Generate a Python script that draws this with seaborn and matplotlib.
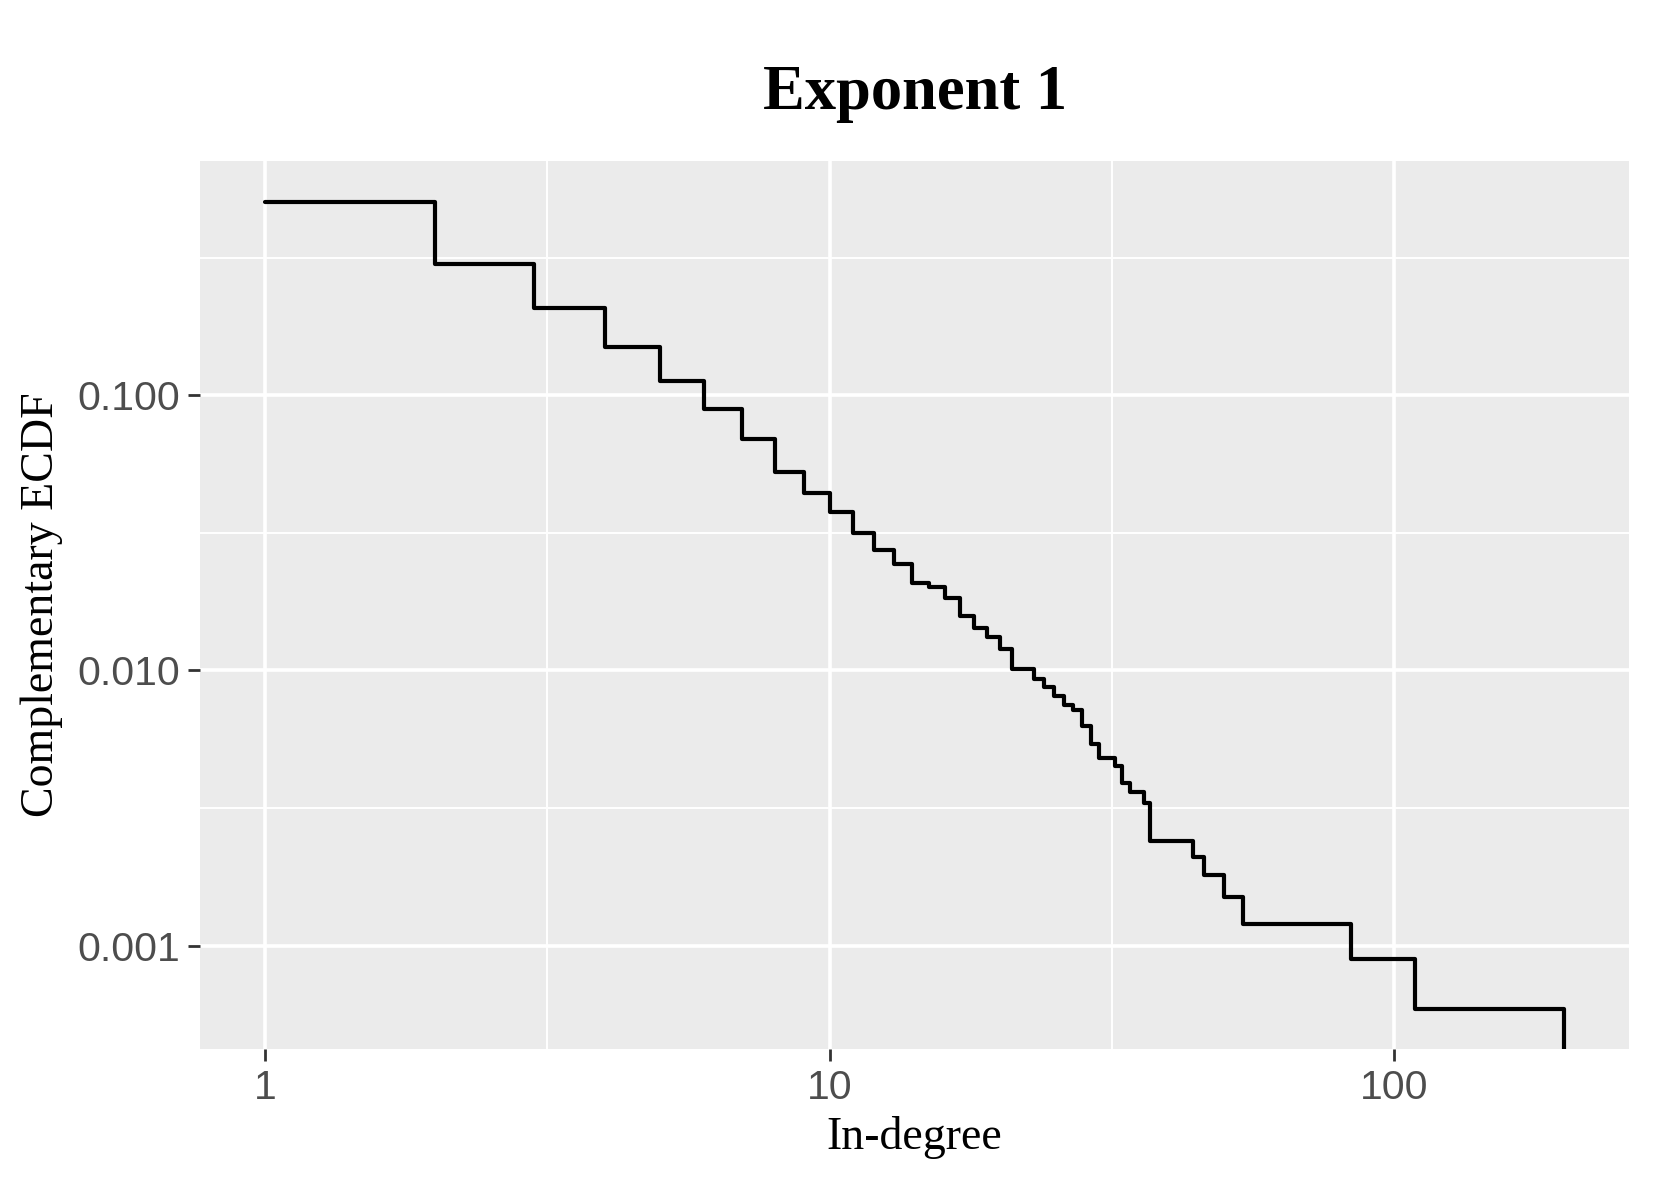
import numpy as np
import matplotlib
matplotlib.use("Agg")
import matplotlib.pyplot as plt
from matplotlib.ticker import FixedLocator, FixedFormatter, NullFormatter
import seaborn as sns

# complementary ECDF P(X > x)
in_degree = [1, 2, 3, 4, 5, 6, 7, 8, 9, 10, 11, 12, 13, 14, 15, 16, 17, 18, 19, 20,
             21, 23, 24, 25, 26, 27, 28, 29, 30, 32, 33, 34, 36, 37, 44, 46, 50, 54,
             84, 109, 200]
ccdf = [0.505, 0.301, 0.207, 0.150, 0.113, 0.0894, 0.0692, 0.0524, 0.0441, 0.0375,
        0.0316, 0.0273, 0.0244, 0.0208, 0.0201, 0.0183, 0.0158, 0.0143, 0.0132, 0.0120,
        0.0101, 0.0093, 0.0087, 0.0081, 0.0075, 0.0072, 0.0063, 0.0054, 0.0048, 0.0045,
        0.0039, 0.0036, 0.0033, 0.0024, 0.0021, 0.0018, 0.0015, 0.0012,
        0.00089, 0.00059, 0.0]

x_breaks = [1, 10, 100]
x_labels = ["1", "10", "100"]
y_breaks = [0.001, 0.01, 0.1]
y_labels = ["0.001", "0.010", "0.100"]

sns.set_theme(style="darkgrid", rc={
    "axes.facecolor": "#EBEBEB",
    "grid.color": "white",
    "text.color": "black",
    "axes.labelcolor": "black",
})
plt.rcParams["font.family"] = ["Liberation Serif", "DejaVu Serif"]

fig = plt.figure(figsize=(16.53, 11.81), dpi=100)
ax = fig.add_axes([0.1211, 0.1118, 0.8644, 0.7516])

sns.lineplot(x=in_degree, y=ccdf, drawstyle="steps-post", color="black",
             linewidth=3.0, ax=ax, estimator=None)

ax.set_xscale("log")
ax.set_yscale("log")

# ggplot style 5% expansion in log space
lx = np.log10([min(in_degree), max(in_degree)])
pos = [v for v in ccdf if v > 0]
ly = np.log10([min(pos), max(pos)])
ex = 0.05 * (lx[1] - lx[0])
ey = 0.05 * (ly[1] - ly[0])
ax.set_xlim(10 ** (lx[0] - ex), 10 ** (lx[1] + ex))
ax.set_ylim(10 ** (ly[0] - ey), 10 ** (ly[1] + ey))

ax.xaxis.set_major_locator(FixedLocator(x_breaks))
ax.xaxis.set_major_formatter(FixedFormatter(x_labels))
ax.yaxis.set_major_locator(FixedLocator(y_breaks))
ax.yaxis.set_major_formatter(FixedFormatter(y_labels))
ax.xaxis.set_minor_locator(FixedLocator(10 ** (np.arange(-1, 3) + 0.5)))
ax.yaxis.set_minor_locator(FixedLocator(10 ** (np.arange(-5, 1) + 0.5)))
ax.xaxis.set_minor_formatter(NullFormatter())
ax.yaxis.set_minor_formatter(NullFormatter())

ax.grid(which="major", color="white", linewidth=2.6)
ax.grid(which="minor", color="white", linewidth=1.4)
ax.tick_params(which="major", length=8.6, width=2.0, color="#333333",
               labelsize=29.5, labelcolor="#4D4D4D", pad=6,
               labelfontfamily="Liberation Sans", bottom=True, left=True)
ax.tick_params(which="minor", length=0)
for s in ax.spines.values():
    s.set_visible(False)

ax.set_xlabel("In-degree", fontsize=33, labelpad=6, color="black")
ax.set_ylabel("Complementary ECDF", fontsize=33, labelpad=10, color="black")
ax.set_title("Exponent 1", fontsize=45, fontweight="bold", pad=38, color="black")

fig.savefig("out.png", dpi=100)
